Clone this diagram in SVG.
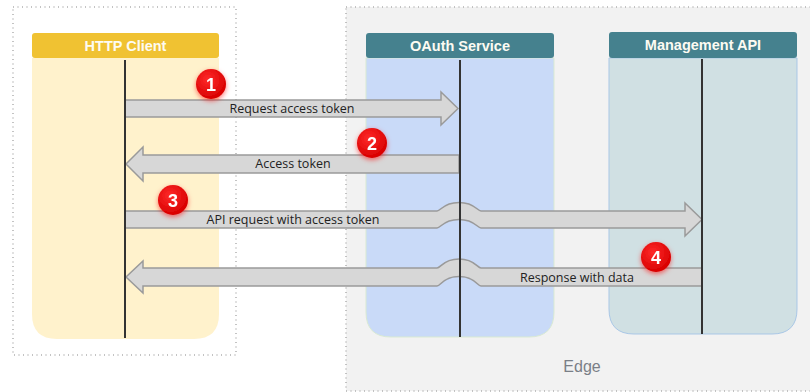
<svg xmlns="http://www.w3.org/2000/svg" width="810" height="392" viewBox="0 0 810 392">
  <defs>
    <style>
      .zone { stroke: #b0b0b0; stroke-width: 1.5; stroke-dasharray: 1 3.5; }
      .head-text { font-family: "Liberation Sans", Arial, sans-serif; font-size: 14.5px; font-weight: bold; fill: #fdfbf2; text-anchor: middle; }
      .lifeline { stroke: #333333; stroke-width: 2; }
      .msg { fill: #d7d7d7; stroke: #9a9a9a; stroke-width: 1.5; stroke-linejoin: miter; }
      .msg-text { font-family: "Open Sans", "Noto Sans", sans-serif; font-size: 12.5px; fill: #222222; text-anchor: middle; }
      .badge-text { font-family: "Liberation Sans", Arial, sans-serif; font-size: 18px; font-weight: bold; fill: #ffffff; text-anchor: middle; }
      .zone-text { font-family: "Liberation Sans", Arial, sans-serif; font-size: 16px; fill: #7a7f87; text-anchor: middle; }
    </style>
    <radialGradient id="badgeFill" cx="40%" cy="35%" r="65%">
      <stop offset="0" stop-color="#ff2a2a"/>
      <stop offset="1" stop-color="#d80000"/>
    </radialGradient>
    <filter id="glow" x="-60%" y="-60%" width="220%" height="220%">
      <feGaussianBlur in="SourceAlpha" stdDeviation="2.5"/>
      <feOffset dx="0" dy="2" result="b"/>
      <feFlood flood-color="#ff0000" flood-opacity="0.55"/>
      <feComposite in2="b" operator="in"/>
      <feMerge>
        <feMergeNode/>
        <feMergeNode in="SourceGraphic"/>
      </feMerge>
    </filter>
  </defs>

  <rect width="810" height="392" fill="#ffffff"/>

  <!-- zones -->
  <rect id="client-zone" class="zone" x="13" y="7" width="223" height="348" fill="#ffffff"/>
  <g id="edge-zone">
    <rect class="zone" x="346" y="7" width="470" height="384" fill="#f2f2f2"/>
    <text class="zone-text" x="582" y="372">Edge</text>
  </g>

  <!-- participants -->
  <g id="http-client">
    <path d="M32,58 H219 V314 Q219,339 194,339 H57 Q32,339 32,314 Z" fill="#fff2cc"/>
    <rect x="32" y="33" width="187" height="25" rx="3" fill="#f0c232"/>
    <text class="head-text" x="125.5" y="50.5">HTTP Client</text>
  </g>
  <g id="oauth-service">
    <path d="M366,58 H554 V312 Q554,337 529,337 H391 Q366,337 366,312 Z" fill="#c9daf8" stroke="#d9ead3" stroke-width="1"/>
    <rect x="366" y="33" width="188" height="25" rx="3" fill="#45818e"/>
    <text class="head-text" x="460" y="50.5">OAuth Service</text>
  </g>
  <g id="management-api">
    <path d="M609,58 H797 V309 Q797,334 772,334 H634 Q609,334 609,309 Z" fill="#d0e0e3" stroke="#a9c7e6" stroke-width="1"/>
    <rect x="609" y="32" width="188" height="26" rx="3" fill="#45818e"/>
    <text class="head-text" x="703" y="49.5">Management API</text>
  </g>

  <!-- messages -->
  <g id="connectors">
    <path class="msg" d="M125,100 H441 V92 L458,108.5 L441,125 V117 H125 Z"/>
    <path class="msg" d="M459,155 H143 V147 L126,164 L143,181 V173 H459 Z"/>
    <path class="msg" d="M125,211 H437 C441,211 443,202.5 459,202.5 C475,202.5 477,211 481,211 H685 V203 L702,219.5 L685,236 V228 H481 C477,228 475,219.5 459,219.5 C443,219.5 441,228 437,228 H125 Z"/>
    <path class="msg" d="M702,268 H481 C477,268 475,259 459,259 C443,259 441,268 437,268 H143 V261 L126,277 L143,293 V286 H437 C441,286 443,276.5 459,276.5 C475,276.5 477,286 481,286 H702 Z"/>
  </g>

  <!-- lifelines -->
  <line class="lifeline" x1="125" y1="60" x2="125" y2="338"/>
  <line class="lifeline" x1="460" y1="60" x2="460" y2="337"/>
  <line class="lifeline" x1="702" y1="59" x2="702" y2="334"/>

  <!-- message labels -->
  <text class="msg-text" x="292" y="112.5">Request access token</text>
  <text class="msg-text" x="293" y="168">Access token</text>
  <text class="msg-text" x="293" y="224">API request with access token</text>
  <text class="msg-text" x="577" y="281.5">Response with data</text>

  <!-- step badges -->
  <g id="badge-1" filter="url(#glow)">
    <circle cx="211" cy="84" r="15" fill="url(#badgeFill)"/>
    <text class="badge-text" x="211" y="90.5">1</text>
  </g>
  <g id="badge-2" filter="url(#glow)">
    <circle cx="372" cy="143" r="15" fill="url(#badgeFill)"/>
    <text class="badge-text" x="372" y="149.5">2</text>
  </g>
  <g id="badge-3" filter="url(#glow)">
    <circle cx="173" cy="200" r="15" fill="url(#badgeFill)"/>
    <text class="badge-text" x="173" y="206.5">3</text>
  </g>
  <g id="badge-4" filter="url(#glow)">
    <circle cx="656" cy="257" r="15" fill="url(#badgeFill)"/>
    <text class="badge-text" x="656" y="263.5">4</text>
  </g>
</svg>
